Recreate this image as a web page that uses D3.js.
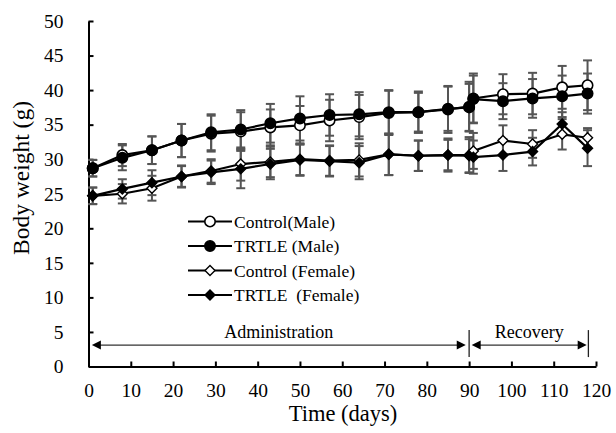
<!DOCTYPE html>
<html>
<head>
<meta charset="utf-8">
<script src="https://cdn.jsdelivr.net/npm/d3@7"></script>
<style>
  html, body { margin: 0; padding: 0; background: #fff; }
  svg { display: block; }
</style>
</head>
<body>
<svg id="chart" width="616" height="433"></svg>
<script>
// ---- data ----
const days = [1, 8, 15, 22, 29, 36, 43, 50, 57, 64, 71, 78, 85, 90, 91, 98, 105, 112, 118];

const controlMale    = [28.7, 30.6, 31.3, 32.7, 33.7, 34.0, 34.6, 34.9, 35.6, 36.1, 36.7, 36.8, 37.2, 37.6, 38.8, 39.4, 39.5, 40.4, 40.7];
const controlMaleErr = [1.2, 1.6, 2.0, 2.4, 2.6, 2.8, 2.6, 2.8, 3.0, 3.2, 3.2, 3.0, 3.4, 3.6, 3.6, 2.9, 3.0, 3.1, 3.6];
const trtleMale      = [28.7, 30.2, 31.3, 32.7, 33.9, 34.3, 35.2, 35.9, 36.4, 36.5, 36.8, 36.8, 37.3, 37.5, 38.7, 38.4, 38.8, 39.1, 39.5];
const trtleMaleErr   = [1.2, 1.8, 2.0, 2.4, 2.6, 2.8, 2.8, 3.2, 3.0, 3.2, 3.2, 2.8, 3.2, 3.4, 3.4, 2.6, 2.8, 3.0, 2.9];

const controlFemale    = [24.7, 25.0, 25.8, 27.5, 28.3, 29.3, 29.6, 30.0, 29.8, 29.9, 30.7, 30.5, 30.6, 30.6, 31.2, 32.7, 32.2, 33.6, 33.1];
const controlFemaleErr = [1.2, 1.4, 1.8, 1.6, 1.7, 2.4, 2.2, 2.3, 2.2, 2.4, 3.0, 2.2, 2.4, 2.6, 2.6, 2.2, 2.0, 2.2, 1.4];
const trtleFemale      = [24.7, 25.7, 26.6, 27.5, 28.1, 28.6, 29.3, 29.9, 29.7, 29.5, 30.7, 30.5, 30.6, 30.5, 30.3, 30.6, 31.1, 35.1, 31.6];
const trtleFemaleErr   = [1.2, 1.4, 1.8, 1.5, 1.7, 2.8, 2.2, 2.3, 2.2, 2.4, 3.0, 2.2, 2.2, 2.4, 2.4, 2.3, 2.0, 1.7, 2.6];

const seriesNames = ["Control(Male)", "TRTLE (Male)", "Control (Female)", "TRTLE  (Female)"];
const xTicks = [0, 10, 20, 30, 40, 50, 60, 70, 80, 90, 100, 110, 120];
const yTicks = [0, 5, 10, 15, 20, 25, 30, 35, 40, 45, 50];

const phaseLabels = ["Administration", "Recovery"];
const phaseStart = [0.8, 90.6];
const phaseEnd = [89.2, 117.8];
const phaseBoundaries = [90, 118.2];
const phaseArrowValue = 3.1;

// ---- layout ----
const FONT = '"Liberation Serif", "Times New Roman", Times, serif';
const svg = d3.select("#chart").attr("font-family", FONT);
const plotLeft = 88.5, plotRight = 596, plotTop = 21, plotBottom = 366.5;

const x = d3.scaleLinear().domain([0, 120]).range([plotLeft, plotRight]);
const y = d3.scaleLinear().domain([0, 50]).range([plotBottom, plotTop]);

const series = [
  { name: seriesNames[0], v: controlMale, e: controlMaleErr, shape: "circle", fill: "#fff" },
  { name: seriesNames[1], v: trtleMale, e: trtleMaleErr, shape: "circle", fill: "#000" },
  { name: seriesNames[2], v: controlFemale, e: controlFemaleErr, shape: "diamond", fill: "#fff" },
  { name: seriesNames[3], v: trtleFemale, e: trtleFemaleErr, shape: "diamond", fill: "#000" }
];

function serif(sel, size) {
  return sel.style("font-family", FONT).style("font-size", size + "px").attr("fill", "#000");
}

// ---- axes ----
const xAxis = d3.axisBottom(x).tickValues(xTicks).tickSizeInner(-5).tickSizeOuter(0).tickPadding(17);
const gx = svg.append("g").attr("transform", `translate(0,${plotBottom})`).call(xAxis);
const yAxis = d3.axisLeft(y).tickValues(yTicks).tickSizeInner(-5).tickSizeOuter(0).tickPadding(25);
const gy = svg.append("g").attr("transform", `translate(${plotLeft},0)`).call(yAxis);

[gx, gy].forEach(g => {
  g.attr("font-family", FONT);
  g.select(".domain").attr("stroke", "#000").attr("stroke-width", 2);
  g.selectAll(".tick line").attr("stroke", "#000").attr("stroke-width", 2);
  serif(g.selectAll(".tick text"), 19.5);
});

// titles
serif(svg.append("text").attr("x", 343).attr("y", 421).attr("text-anchor", "middle"), 22.5)
  .text("Time (days)");
serif(svg.append("text").attr("transform", "translate(29,178) rotate(-90)").attr("text-anchor", "middle"), 23.5)
  .text("Body weight (g)");

// ---- error bars ----
const cap = 4.5;
const eg = svg.append("g").attr("stroke", "#555").attr("stroke-width", 2).attr("fill", "none");
series.forEach(s => {
  days.forEach((d, i) => {
    const cx = x(d), y1 = y(s.v[i] + s.e[i]), y2 = y(s.v[i] - s.e[i]);
    eg.append("line").attr("x1", cx).attr("x2", cx).attr("y1", y1).attr("y2", y2);
    eg.append("line").attr("x1", cx - cap).attr("x2", cx + cap).attr("y1", y1).attr("y2", y1);
    eg.append("line").attr("x1", cx - cap).attr("x2", cx + cap).attr("y1", y2).attr("y2", y2);
  });
});

// ---- lines ----
const line = d3.line().x((d, i) => x(days[i])).y(d => y(d));
series.forEach(s => {
  svg.append("path").datum(s.v).attr("d", line)
    .attr("fill", "none").attr("stroke", "#000").attr("stroke-width", 2.2);
});

// ---- markers ----
function drawMarker(g, shape, fill, cx, cy) {
  if (shape === "circle") {
    g.append("circle").attr("cx", cx).attr("cy", cy).attr("r", 5.2)
      .attr("fill", fill).attr("stroke", "#000").attr("stroke-width", 1.6);
  } else {
    const r = 5;
    g.append("path").attr("d", `M${cx},${cy - r}L${cx + r},${cy}L${cx},${cy + r}L${cx - r},${cy}Z`)
      .attr("fill", fill).attr("stroke", "#000").attr("stroke-width", 1.4);
  }
}
const mg = svg.append("g");
series.forEach(s => {
  days.forEach((d, i) => drawMarker(mg, s.shape, s.fill, x(d), y(s.v[i])));
});

// ---- legend ----
const legendRows = [221.5, 246, 270.5, 295];
const lg = svg.append("g");
series.forEach((s, i) => {
  const ly = legendRows[i];
  lg.append("line").attr("x1", 188).attr("x2", 232).attr("y1", ly).attr("y2", ly)
    .attr("stroke", "#000").attr("stroke-width", 2);
  drawMarker(lg, s.shape, s.fill, 210, ly);
  serif(lg.append("text").attr("x", 234).attr("y", ly + 6), 17.5)
    .style("white-space", "pre").attr("xml:space", "preserve").text(s.name);
});

// ---- phase annotations ----
const ay = y(phaseArrowValue);
const ag = svg.append("g");
phaseBoundaries.forEach(b => {
  ag.append("line").attr("x1", x(b)).attr("x2", x(b)).attr("y1", ay - 15).attr("y2", ay + 12)
    .attr("stroke", "#222").attr("stroke-width", 1.3);
});
const ah = 9, aw = 4.5;
phaseLabels.forEach((lab, i) => {
  const x1 = x(phaseStart[i]), x2 = x(phaseEnd[i]);
  ag.append("line").attr("x1", x1 + ah - 1).attr("x2", x2 - ah + 1).attr("y1", ay).attr("y2", ay)
    .attr("stroke", "#333").attr("stroke-width", 1.2);
  ag.append("path").attr("d", `M${x1},${ay}L${x1 + ah},${ay - aw}L${x1 + ah},${ay + aw}Z`).attr("fill", "#000");
  ag.append("path").attr("d", `M${x2},${ay}L${x2 - ah},${ay - aw}L${x2 - ah},${ay + aw}Z`).attr("fill", "#000");
  serif(ag.append("text").attr("x", (x1 + x2) / 2).attr("y", ay - 7).attr("text-anchor", "middle"), 18)
    .text(lab);
});
</script>
</body>
</html>
